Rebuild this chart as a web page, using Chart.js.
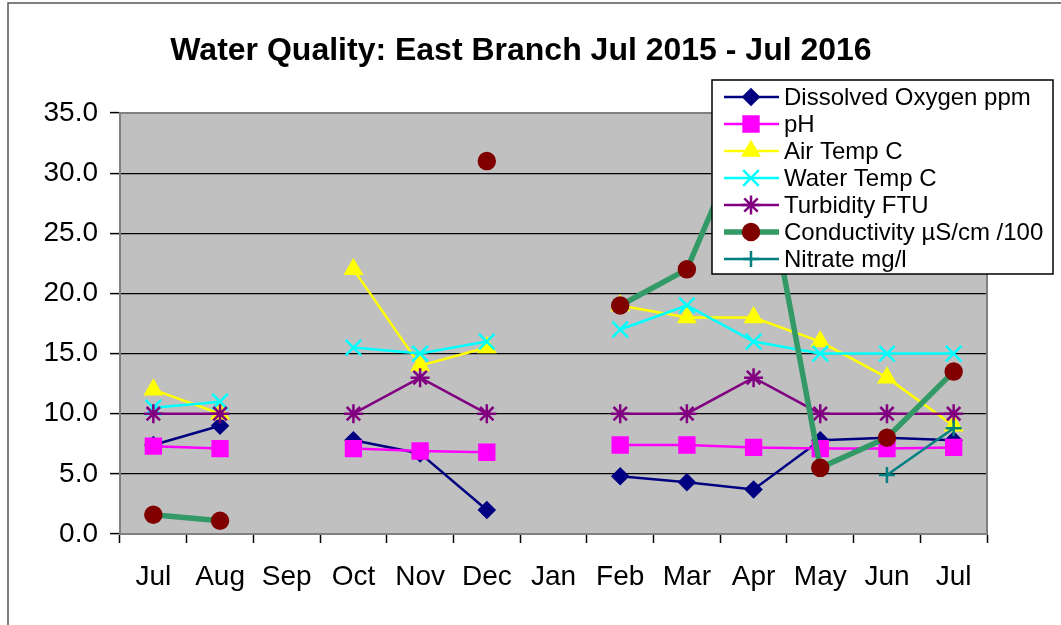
<!DOCTYPE html>
<html>
<head>
<meta charset="utf-8">
<script src="https://cdn.jsdelivr.net/npm/chart.js@4.4.1/dist/chart.umd.min.js"></script>
<style>
  html, body { margin: 0; padding: 0; background: #fff; }
  #wrap { width: 1061px; height: 625px; }
</style>
</head>
<body>
<div id="wrap"><canvas id="chart" width="1061" height="625"></canvas></div>
<script>
const months = ['Jul', 'Aug', 'Sep', 'Oct', 'Nov', 'Dec', 'Jan', 'Feb', 'Mar', 'Apr', 'May', 'Jun', 'Jul'];
const yTickLabels = ['0.0', '5.0', '10.0', '15.0', '20.0', '25.0', '30.0', '35.0'];

const dissolvedOxygen = [7.4, 9.0, null, 7.8, 6.7, 2.0, null, 4.8, 4.3, 3.7, 7.8, 8.0, 7.8];
const ph              = [7.3, 7.1, null, 7.1, 6.9, 6.8, null, 7.4, 7.4, 7.2, 7.1, 7.1, 7.2];
const airTemp         = [12, 10, null, 22, 14, 15.5, null, 19, 18, 18, 16, 13, 9];
const waterTemp       = [10.5, 11, null, 15.5, 15, 16, null, 17, 19, 16, 15, 15, 15];
const turbidity       = [10, 10, null, 10, 13, 10, null, 10, 10, 13, 10, 10, 10];
const conductivity    = [1.6, 1.1, null, null, null, 31, null, 19, 22, 35, 5.5, 8.0, 13.5];
const nitrate         = [null, null, null, null, null, null, null, null, null, null, null, 4.9, 8.8];

const FONT = '"Liberation Sans", Arial, sans-serif';

function series(label, data, line, lineWidth, style, radius, fill, stroke, i) {
    return {
        label: label,
        data: data,
        borderColor: line,
        borderWidth: lineWidth,
        pointStyle: style,
        pointRadius: radius,
        pointHoverRadius: radius,
        pointBackgroundColor: fill,
        pointBorderColor: stroke,
        pointBorderWidth: 2.5,
        spanGaps: false,
        tension: 0,
        order: 10 - i
    };
}

const datasets = [
    series('Dissolved Oxygen ppm', dissolvedOxygen, '#000080', 2.5, 'rectRot', 7.5, '#000080', '#000080', 0),
    series('pH', ph, '#FF00FF', 2.5, 'rect', 10.5, '#FF00FF', '#FF00FF', 1),
    series('Air Temp C', airTemp, '#FFFF00', 2.5, 'triangle', 9, '#FFFF00', '#FFFF00', 2),
    series('Water Temp C', waterTemp, '#00FFFF', 2.5, 'crossRot', 11, '#00FFFF', '#00FFFF', 3),
    series('Turbidity FTU', turbidity, '#800080', 2.5, 'star', 9.5, '#800080', '#800080', 4),
    series('Conductivity \u00B5S/cm /100', conductivity, '#339966', 5.5, 'circle', 8, '#800000', '#800000', 5),
    series('Nitrate mg/l', nitrate, '#008080', 2.5, 'cross', 8, '#008080', '#008080', 6)
];

const framePlugin = {
    id: 'frame',
    beforeDraw(chart) {
        const ctx = chart.ctx;
        const a = chart.chartArea;
        ctx.save();
        ctx.fillStyle = '#fff';
        ctx.fillRect(0, 0, chart.width, chart.height);
        ctx.strokeStyle = '#555';
        ctx.lineWidth = 1.5;
        ctx.strokeRect(8, 3, chart.width + 20, chart.height + 20);
        ctx.fillStyle = '#C0C0C0';
        ctx.fillRect(a.left, a.top, a.right - a.left, a.bottom - a.top);
        ctx.restore();
    },
    beforeDatasetsDraw(chart) {
        const ctx = chart.ctx;
        const a = chart.chartArea;
        ctx.save();
        ctx.strokeStyle = '#808080';
        ctx.lineWidth = 2;
        ctx.strokeRect(a.left, a.top, a.right - a.left, a.bottom - a.top);
        ctx.restore();
    },
    afterDraw(chart) {
        const ctx = chart.ctx;
        ctx.save();
        // title
        ctx.fillStyle = '#000';
        ctx.font = 'bold 32px ' + FONT;
        ctx.textAlign = 'center';
        ctx.textBaseline = 'alphabetic';
        ctx.fillText('Water Quality: East Branch Jul 2015 - Jul 2016', 521, 60);

        // legend
        const bx = 712, by = 80, bw = 341, bh = 194;
        ctx.fillStyle = '#fff';
        ctx.fillRect(bx, by, bw, bh);
        ctx.strokeStyle = '#000';
        ctx.lineWidth = 1.5;
        ctx.strokeRect(bx, by, bw, bh);
        ctx.font = '24px ' + FONT;
        ctx.textAlign = 'left';
        ctx.textBaseline = 'middle';
        chart.data.datasets.forEach((ds, i) => {
            const y = 97 + i * 27;
            ctx.strokeStyle = ds.borderColor;
            ctx.lineWidth = ds.borderWidth;
            ctx.beginPath();
            ctx.moveTo(724, y);
            ctx.lineTo(779, y);
            ctx.stroke();
            ctx.fillStyle = ds.pointBackgroundColor;
            ctx.strokeStyle = ds.pointBorderColor;
            ctx.lineWidth = ds.pointBorderWidth;
            Chart.helpers.drawPoint(ctx, {
                pointStyle: ds.pointStyle,
                radius: ds.pointRadius,
                rotation: 0,
                borderWidth: ds.pointBorderWidth
            }, 751, y);
            ctx.fillStyle = '#000';
            ctx.fillText(ds.label, 784, y + 1);
        });
        ctx.restore();
    }
};

new Chart(document.getElementById('chart'), {
    type: 'line',
    data: { labels: months, datasets: datasets },
    options: {
        responsive: false,
        animation: false,
        events: [],
        layout: { padding: { left: 0, right: 74, top: 113, bottom: 0 } },
        plugins: {
            legend: { display: false },
            title: { display: false },
            tooltip: { enabled: false }
        },
        scales: {
            x: {
                offset: true,
                afterFit(scale) { scale.height = 91; },
                grid: {
                    offset: true,
                    drawOnChartArea: false,
                    color: '#000',
                    tickLength: 9,
                    tickWidth: 1.5
                },
                border: { color: '#333', width: 2 },
                ticks: {
                    color: '#000',
                    padding: 17,
                    maxRotation: 0,
                    autoSkip: false,
                    font: { family: FONT, size: 28 }
                }
            },
            y: {
                min: 0,
                max: 35,
                afterFit(scale) { scale.width = 120; },
                grid: {
                    color: '#000',
                    lineWidth: 1.2,
                    tickLength: 10,
                    tickWidth: 1.5
                },
                border: { color: '#333', width: 2 },
                ticks: {
                    stepSize: 5,
                    color: '#000',
                    padding: 12,
                    font: { family: FONT, size: 28 },
                    callback: (v, i) => yTickLabels[i]
                }
            }
        }
    },
    plugins: [framePlugin]
});
</script>
</body>
</html>
